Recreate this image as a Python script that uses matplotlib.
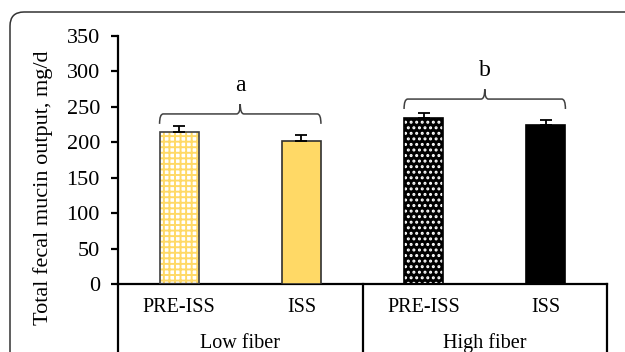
import matplotlib.pyplot as plt
from matplotlib.path import Path
from matplotlib.patches import PathPatch, FancyBboxPatch
from matplotlib.transforms import IdentityTransform

plt.rcParams['font.family'] = ['Liberation Serif', 'DejaVu Serif']

# data
labels = ['PRE-ISS', 'ISS', 'PRE-ISS', 'ISS']
groups = ['Low fiber', 'High fiber']
values = [215, 202, 234, 224]
errors = [8, 8, 7, 8]
group_letters = ['a', 'b']

gold = '#FFD966'
faces = ['white', gold, 'black', 'black']
hatches = ['+++', None, '...', None]
hatch_cols = [gold, None, 'white', None]
edges = ['#404040', '#303030', 'black', 'black']

fig = plt.figure(figsize=(6.25, 3.52), dpi=100)
ax = fig.add_axes([118/625, 1-284/352, 489/625, 248/352])

x = list(range(len(values)))
w = 0.32
plt.rcParams['hatch.linewidth'] = 1.4
for i in x:
    if hatches[i]:
        ax.bar(i, values[i], w, color=faces[i], edgecolor=hatch_cols[i],
               hatch=hatches[i], linewidth=0, zorder=2)
        ax.bar(i, values[i], w, fill=False, edgecolor=edges[i], linewidth=1.2, zorder=3)
    else:
        ax.bar(i, values[i], w, color=faces[i], edgecolor=edges[i], linewidth=1.2, zorder=3)

ax.errorbar(x, values, yerr=[[0]*4, errors], fmt='none', ecolor='black',
            elinewidth=1.3, capsize=4, capthick=1.3, zorder=4)

ax.set_xlim(-0.5, 3.5)
ax.set_ylim(0, 350)
ax.set_yticks(range(0, 351, 50))
ax.set_xticks([])
ax.spines['top'].set_visible(False)
ax.spines['right'].set_visible(False)
ax.spines['left'].set_linewidth(1.6)
ax.spines['bottom'].set_linewidth(1.6)
ax.tick_params(axis='y', direction='out', length=5, width=1.6, labelsize=16, pad=8)

ax.set_ylabel('Total fecal mucin output, mg/d', fontsize=16)
ax.yaxis.set_label_coords(-0.132, 0.39)


def brace(x0, x1, y, d, t, rx):
    xm = (x0 + x1) / 2
    verts = [(x0, y - d), (x0, y), (x0 + rx, y),
             (xm - rx, y), (xm, y), (xm, y + t),
             (xm, y), (xm + rx, y),
             (x1 - rx, y), (x1, y), (x1, y - d)]
    codes = [Path.MOVETO, Path.CURVE3, Path.CURVE3,
             Path.LINETO, Path.CURVE3, Path.CURVE3,
             Path.CURVE3, Path.CURVE3,
             Path.LINETO, Path.CURVE3, Path.CURVE3]
    ax.add_patch(PathPatch(Path(verts, codes), fill=False, edgecolor='#404040',
                           linewidth=1.1, zorder=5))
    return xm, y + t


for g in range(2):
    i0, i1 = 2*g, 2*g + 1
    top = max(values[i0] + errors[i0], values[i1] + errors[i1])
    y = top + 17 + 3*g
    xm, ytip = brace(i0 - w/2, i1 + w/2, y, 14, 14, 0.03)
    ax.text(xm, ytip + 26, group_letters[g], ha='center', va='center', fontsize=17)

# category box under the axis
tr = ax.get_xaxis_transform()
for xv in [-0.5, 1.5, 3.5]:
    ax.plot([xv, xv], [0, -0.4], color='black', lw=1.6, transform=tr, clip_on=False)
for i in x:
    ax.text(i, -0.093, labels[i], ha='center', va='center', fontsize=14.5, transform=tr)
for g in range(2):
    ax.text(2*g + 0.5, -0.238, groups[g], ha='center', va='center', fontsize=14.5, transform=tr)

# outer rounded frame
fig.patches.append(FancyBboxPatch((10, -60), 700, 400, boxstyle='round,pad=0,rounding_size=14',
                                  transform=IdentityTransform(), fill=False,
                                  edgecolor='#333333', linewidth=1.1))

fig.savefig('out.png', dpi=100)
